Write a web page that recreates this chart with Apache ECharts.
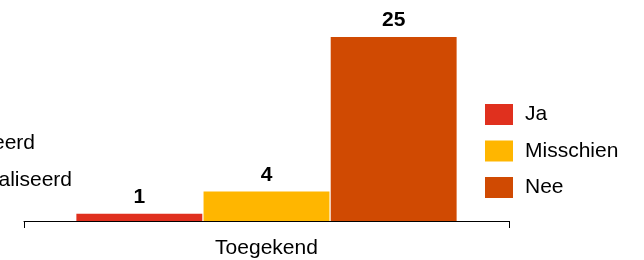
<!DOCTYPE html>
<html><head><meta charset="utf-8">
<script src="https://cdn.jsdelivr.net/npm/echarts@6/dist/echarts.min.js"></script>
<style>html,body{margin:0;padding:0;background:#fff}#c{width:644px;height:260px}</style>
</head><body><div id="c"></div>
<script>
const categories = ['Toegekend'];
const seriesNames = ['Ja', 'Misschien', 'Nee'];
const valJa = [1];
const valMisschien = [4];
const valNee = [25];
const sideLabels = ['Gepubliceerd', 'Gerealiseerd'];
const colors = ['#E0301E', '#FFB600', '#D04A02'];
const values = [valJa, valMisschien, valNee];
const font = 'Liberation Sans, Arial, sans-serif';
const fs = 21;

const chart = echarts.init(document.getElementById('c'), null, {renderer: 'canvas'});
chart.setOption({
  animation: false,
  textStyle: {fontFamily: font},
  grid: {left: 24, right: 135, top: 37, bottom: 39, containLabel: false},
  legend: {
    orient: 'vertical', left: 485, top: 104, padding: 0,
    itemWidth: 28, itemHeight: 21, itemGap: 15.5,
    icon: 'rect',
    textStyle: {fontSize: fs, color: '#000', fontFamily: font, padding: [0, 0, 0, 7]},
    data: seriesNames
  },
  xAxis: {
    type: 'category', data: categories,
    axisLine: {lineStyle: {color: '#000', width: 1}},
    axisTick: {show: true, length: 7, lineStyle: {color: '#000'}},
    axisLabel: {fontSize: fs, color: '#000', margin: 17, fontFamily: font}
  },
  yAxis: {type: 'value', min: 0, max: 25, show: false, splitLine: {show: false}},
  series: seriesNames.map((n, i) => ({
    name: n, type: 'bar', data: values[i],
    itemStyle: {color: colors[i]},
    barGap: '1%', barCategoryGap: '21.6%',
    label: {show: true, position: 'top', distance: 6, fontSize: fs, fontWeight: 'bold', color: '#000', fontFamily: font}
  })),
  graphic: [
    {type: 'text', x: 35, y: 143, style: {text: sideLabels[0], fill: '#000', font: fs + 'px ' + font, align: 'right', verticalAlign: 'middle'}},
    {type: 'text', x: 72, y: 180, style: {text: sideLabels[1], fill: '#000', font: fs + 'px ' + font, align: 'right', verticalAlign: 'middle'}}
  ]
});
</script></body></html>
